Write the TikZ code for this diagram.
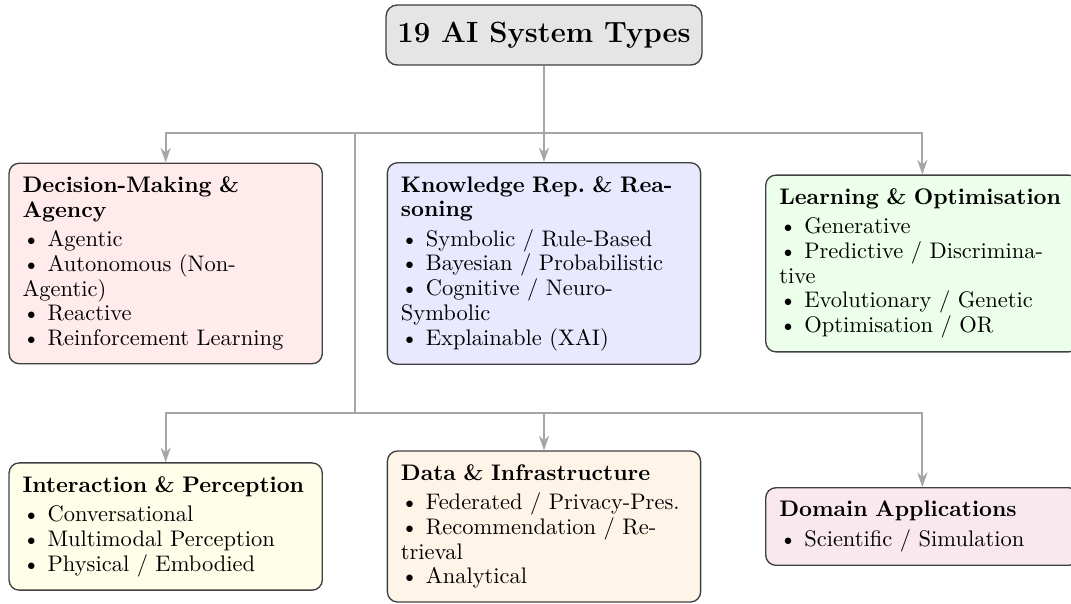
\documentclass[tikz,border=0pt]{standalone}
\usepackage{tikz}
\usetikzlibrary{calc}
\usetikzlibrary{arrows.meta}

\begin{document}
\begin{tikzpicture}[
	catbox/.style={draw=black!75, semithick, rounded corners=4.5pt, text width=127.2pt, align=left, inner sep=6pt, font=\fontsize{10}{11}\selectfont},
	link/.style={draw=gray!70, line width=0.9pt, -{Stealth[length=6.5pt, width=4.5pt]}},
	trunk/.style={draw=gray!70, line width=0.9pt}]
	\useasboundingbox (-8.498,-8.873) rectangle (8.232,0.547);

	\node[draw=black!75, semithick, fill=gray!20, rounded corners=5pt, inner xsep=5pt, inner ysep=7.5pt, font=\fontsize{13}{15}\selectfont\bfseries] (types) at (0,0) {19 AI System Types};

	%first row
	\node[catbox, fill=red!8] (dma) at ($(types)+(-5.91,-3.569)$) {\textbf{Decision-Making \& Agency}\\[2pt]
		\textbullet~Agentic\\
		\textbullet~Autonomous (Non-Agentic)\\
		\textbullet~Reactive\\
		\textbullet~Reinforcement Learning};
	\node[catbox, fill=blue!9] (krr) at ($(types)+(0,-3.569)$) {\textbf{Knowledge Rep.\ \& Reasoning}\\[2pt]
		\textbullet~Symbolic / Rule-Based\\
		\textbullet~Bayesian / Probabilistic\\
		\textbullet~Cognitive / Neuro-Symbolic\\
		\textbullet~Explainable (XAI)};
	\node[catbox, fill=green!8] (lopt) at ($(types)+(5.91,-3.569)$) {\textbf{Learning \& Optimisation}\\[2pt]
		\textbullet~Generative\\
		\textbullet~Predictive / Discriminative\\
		\textbullet~Evolutionary / Genetic\\
		\textbullet~Optimisation / OR};

	%second row
	\node[catbox, fill=yellow!9] (iper) at ($(types)+(-5.91,-7.678)$) {\textbf{Interaction \& Perception}\\[2pt]
		\textbullet~Conversational\\
		\textbullet~Multimodal Perception\\
		\textbullet~Physical / Embodied};
	\node[catbox, fill=orange!9] (dinf) at ($(types)+(0,-7.678)$) {\textbf{Data \& Infrastructure}\\[2pt]
		\textbullet~Federated / Privacy-Pres.\\
		\textbullet~Recommendation / Retrieval\\
		\textbullet~Analytical};
	\node[catbox, fill=purple!9] (dapp) at ($(types)+(5.91,-7.678)$) {\textbf{Domain Applications}\\[2pt]
		\textbullet~Scientific / Simulation};

	\coordinate (fork) at ($(types)+(0,-1.526)$);
	\coordinate (drop) at ($(types)+(-2.955,-1.526)$);
	\coordinate (hub) at ($(types)+(-2.955,-5.911)$);

	\draw[trunk] (types.south) -- (fork);
	\draw[link] (fork) -| (dma.north);
	\draw[link] (fork) -- (krr.north);
	\draw[link] (fork) -| (lopt.north);

	\draw[trunk] (drop) -- (hub);
	\draw[link] (hub) -| (iper.north);
	\draw[link] (hub) -| (dinf.north);
	\draw[link] (hub) -| (dapp.north);
\end{tikzpicture}
\end{document}
